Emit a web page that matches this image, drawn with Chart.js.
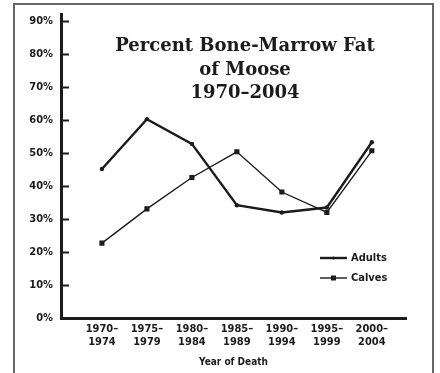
<!DOCTYPE html>
<html>
<head>
<meta charset="utf-8">
<script src="https://cdn.jsdelivr.net/npm/chart.js@4/dist/chart.umd.min.js"></script>
<style>
  html, body { margin: 0; padding: 0; background: #fff; }
  #wrap { position: relative; width: 440px; height: 373px; overflow: hidden; }
  #frame { position: absolute; left: 13px; top: 3px; width: 417px; height: 400px; border: 2px solid #666; }
  #c { position: absolute; left: 0; top: 0; }
</style>
</head>
<body>
<div id="wrap">
  <div id="frame"></div>
  <canvas id="c" width="440" height="373"></canvas>
</div>
<script>
// Periods of death (two-line tick labels)
const periods = [
  ['1970–', '1974'], ['1975–', '1979'], ['1980–', '1984'], ['1985–', '1989'],
  ['1990–', '1994'], ['1995–', '1999'], ['2000–', '2004']
];
// Percent bone-marrow fat
const adults = [45.2, 60.3, 52.8, 34.2, 32.0, 33.5, 53.3];
const calves = [22.7, 33.1, 42.6, 50.4, 38.2, 32.0, 50.7];
const yTicks = [0, 10, 20, 30, 40, 50, 60, 70, 80, 90];
const titleLines = ['Percent Bone-Marrow Fat', 'of Moose', '1970–2004'];
const seriesNames = ['Adults', 'Calves'];

const INK = '#1b1b1b';
const NARROW = '"Liberation Sans Narrow", "DejaVu Sans Condensed", "Liberation Sans", sans-serif';

const toPoints = arr => arr.map((v, i) => ({ x: i, y: v }));

// Title set inside the plot, plus the key and the inward y tick marks
const decor = {
  id: 'decor',
  afterDraw(chart) {
    const ctx = chart.ctx;
    const ys = chart.scales.y;
    const area = chart.chartArea;
    ctx.save();
    // inward tick marks on the y axis
    ctx.strokeStyle = INK;
    ctx.lineWidth = 2;
    yTicks.forEach(v => {
      if (v === 0) return;
      const py = Math.round(ys.getPixelForValue(v)) + 0.5;
      ctx.beginPath();
      ctx.moveTo(area.left, py);
      ctx.lineTo(area.left + 8, py);
      ctx.stroke();
    });
    // title
    ctx.fillStyle = INK;
    ctx.textAlign = 'center';
    ctx.textBaseline = 'alphabetic';
    ctx.font = 'bold 18px "DejaVu Serif", "Liberation Serif", serif';
    const base = [51, 75, 98];
    titleLines.forEach((t, i) => ctx.fillText(t, 245, base[i]));
    // key
    const rows = [258, 278];
    chart.data.datasets.forEach((ds, i) => {
      const y = rows[i];
      ctx.strokeStyle = ds.borderColor;
      ctx.lineWidth = ds.borderWidth;
      ctx.beginPath();
      ctx.moveTo(320, y);
      ctx.lineTo(347, y);
      ctx.stroke();
      ctx.fillStyle = ds.borderColor;
      if (ds.pointStyle === 'rect') {
        ctx.fillRect(333.5 - 2.5, y - 2.5, 5, 5);
      } else {
        ctx.beginPath();
        ctx.arc(333.5, y, 1.6, 0, Math.PI * 2);
        ctx.fill();
      }
      ctx.fillStyle = INK;
      ctx.textAlign = 'left';
      ctx.textBaseline = 'middle';
      ctx.font = 'bold 11px ' + NARROW;
      ctx.fillText(seriesNames[i], 351, y);
    });
    ctx.restore();
  }
};

new Chart(document.getElementById('c'), {
  type: 'line',
  data: {
    datasets: [
      {
        label: seriesNames[0],
        data: toPoints(adults),
        borderColor: INK,
        backgroundColor: INK,
        borderWidth: 2.4,
        pointStyle: 'circle',
        pointRadius: 2.2,
        pointBorderWidth: 0,
        pointHoverRadius: 2.2,
        tension: 0
      },
      {
        label: seriesNames[1],
        data: toPoints(calves),
        borderColor: INK,
        backgroundColor: INK,
        borderWidth: 1.4,
        pointStyle: 'rect',
        pointRadius: 3.6,
        pointBorderWidth: 0,
        pointHoverRadius: 3.6,
        tension: 0
      }
    ]
  },
  options: {
    responsive: false,
    animation: false,
    events: [],
    layout: { padding: { top: 13, right: 34, left: 0, bottom: 0 } },
    plugins: { legend: { display: false }, title: { display: false }, tooltip: { enabled: false } },
    scales: {
      x: {
        type: 'linear',
        min: -0.91,
        max: 6.76,
        afterBuildTicks: s => { s.ticks = periods.map((_, i) => ({ value: i })); },
        afterFit: s => { s.height = 55; },
        grid: { display: false, drawTicks: false },
        border: { display: true, color: INK, width: 3 },
        ticks: {
          autoSkip: false,
          maxRotation: 0,
          padding: 4,
          color: INK,
          font: { family: NARROW, size: 11, weight: 'bold', lineHeight: 1.25 },
          callback: v => periods[v]
        },
        title: {
          display: true,
          text: 'Year of Death',
          color: INK,
          font: { family: NARROW, size: 10, weight: 'bold' },
          padding: { top: 4, bottom: 5 }
        }
      },
      y: {
        min: 0,
        max: 92,
        afterBuildTicks: s => { s.ticks = yTicks.map(v => ({ value: v })); },
        afterFit: s => { s.width = 61; },
        grid: { display: false, drawTicks: false },
        border: { display: true, color: INK, width: 3 },
        ticks: {
          padding: 8,
          color: INK,
          font: { family: NARROW, size: 11, weight: 'bold' },
          callback: v => v + '%'
        }
      }
    }
  },
  plugins: [decor]
});
</script>
</body>
</html>
